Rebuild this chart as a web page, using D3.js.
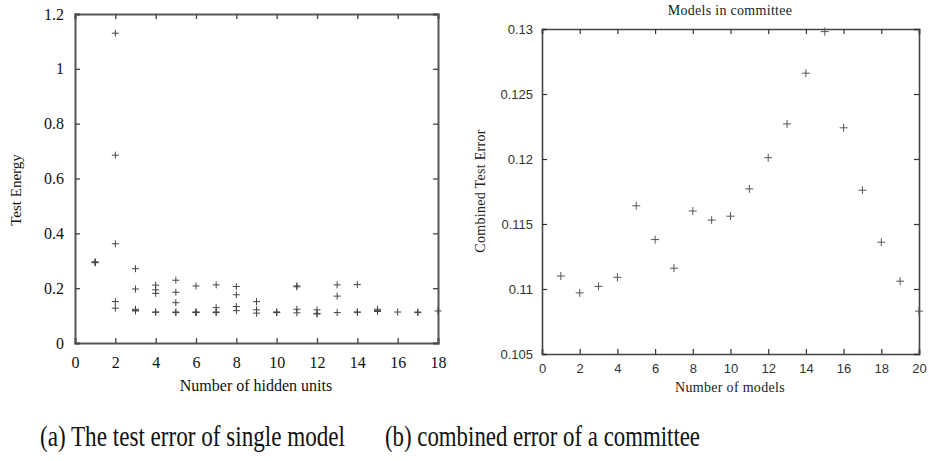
<!DOCTYPE html>
<html>
<head>
<meta charset="utf-8">
<script src="https://d3js.org/d3.v7.min.js"></script>
<style>
    body { margin: 0; background: #fff; }
    .serif { font-family: "Liberation Serif", "Times New Roman", serif; }
    .sans { font-family: "Liberation Sans", Arial, sans-serif; }
</style>
</head>
<body>
<svg id="svgMain" width="929" height="461" style="background:#fff"></svg>
<script>

    // (a) single model: test energy for each number of hidden units
    const hiddenUnits = [1, 2, 3, 4, 5, 6, 7, 8, 9, 10, 11, 12, 13, 14, 15, 16, 17, 18];
    const testEnergy = [
        [0.293, 0.296, 0.294],
        [1.13, 0.685, 0.362, 0.151, 0.127],
        [0.271, 0.197, 0.123, 0.117, 0.119],
        [0.211, 0.194, 0.181, 0.113, 0.112],
        [0.229, 0.185, 0.147, 0.113, 0.111],
        [0.208, 0.113, 0.111, 0.112],
        [0.212, 0.129, 0.113, 0.111],
        [0.206, 0.176, 0.133, 0.118],
        [0.151, 0.121, 0.109],
        [0.113, 0.111, 0.112],
        [0.208, 0.205, 0.123, 0.110],
        [0.121, 0.106, 0.108],
        [0.212, 0.171, 0.111],
        [0.213, 0.112, 0.113],
        [0.123, 0.115, 0.118],
        [0.113],
        [0.113, 0.111],
        [0.117]
    ];
    const energyTicks = [0, 0.2, 0.4, 0.6, 0.8, 1, 1.2];
    const unitTicks = [0, 2, 4, 6, 8, 10, 12, 14, 16, 18];

    // (b) committee: combined test error vs number of models
    const numModels = [1, 2, 3, 4, 5, 6, 7, 8, 9, 10, 11, 12, 13, 14, 15, 16, 17, 18, 19, 20];
    const combinedError = [0.1110, 0.1097, 0.1102, 0.1109, 0.1164, 0.1138, 0.1116, 0.1160, 0.1153, 0.1156,
        0.1177, 0.1201, 0.1227, 0.1266, 0.1298, 0.1224, 0.1176, 0.1136, 0.1106, 0.1083];
    const errorTicks = [0.105, 0.11, 0.115, 0.12, 0.125, 0.13];
    const modelTicks = [0, 2, 4, 6, 8, 10, 12, 14, 16, 18, 20];

    const captions = ["(a) The test error of single model", "(b) combined error of a committee"];

    const svg = d3.select("#svgMain");

    // cross marker path
    const cross = (x, y, r) => `M${x - r},${y}H${x + r}M${x},${y - r}V${y + r}`;

    // ---------- left chart ----------
    const xA = d3.scaleLinear().domain([0, 18]).range([75, 438]);
    const yA = d3.scaleLinear().domain([0, 1.2]).range([343, 14]);
    const gA = svg.append("g");

    const ptsA = [];
    hiddenUnits.forEach((u, i) => testEnergy[i].forEach(v => ptsA.push([u, v])));

    gA.append("g")
        .attr("transform", "translate(0,343)")
        .call(d3.axisBottom(xA).tickValues(unitTicks).tickSize(-5).tickPadding(14).tickFormat(d3.format("d")));
    gA.append("g")
        .attr("transform", "translate(0,14)")
        .call(d3.axisTop(xA).tickValues(unitTicks).tickSize(-5).tickFormat(""));
    gA.append("g")
        .attr("transform", "translate(75,0)")
        .call(d3.axisLeft(yA).tickValues(energyTicks).tickSize(-5).tickPadding(11).tickFormat(d => String(+d.toFixed(1))));
    gA.append("g")
        .attr("transform", "translate(438,0)")
        .call(d3.axisRight(yA).tickValues(energyTicks).tickSize(-5).tickFormat(""));

    gA.selectAll(".domain").attr("stroke", "#555").attr("stroke-width", 2);
    gA.selectAll(".tick line").attr("stroke", "#444").attr("stroke-width", 1.3);
    gA.selectAll(".tick text").attr("class", "serif").attr("font-size", 16).attr("fill", "#111");

    gA.append("path")
        .attr("d", ptsA.map(p => cross(xA(p[0]), yA(p[1]), 3.5)).join(""))
        .attr("stroke", "#444")
        .attr("stroke-width", 1)
        .attr("fill", "none");

    gA.append("text").attr("class", "serif")
        .attr("transform", "translate(16,190) rotate(-90)")
        .attr("text-anchor", "middle").attr("dy", "0.35em")
        .attr("font-size", 15).attr("fill", "#111")
        .text("Test Energy");

    gA.append("text").attr("class", "serif")
        .attr("x", 256).attr("y", 385).attr("dy", "0.35em")
        .attr("text-anchor", "middle")
        .attr("font-size", 16).attr("fill", "#111")
        .text("Number of hidden units");

    // ---------- right chart ----------
    const xB = d3.scaleLinear().domain([0, 20]).range([542, 919]);
    const yB = d3.scaleLinear().domain([0.105, 0.13]).range([354, 29]);
    const gB = svg.append("g");

    gB.append("g")
        .attr("transform", "translate(0,354)")
        .call(d3.axisBottom(xB).tickValues(modelTicks).tickSize(-5).tickPadding(9.5).tickFormat(d3.format("d")));
    gB.append("g")
        .attr("transform", "translate(0,29)")
        .call(d3.axisTop(xB).tickValues(modelTicks).tickSize(-5).tickFormat(""));
    gB.append("g")
        .attr("transform", "translate(542,0)")
        .call(d3.axisLeft(yB).tickValues(errorTicks).tickSize(-5).tickPadding(9).tickFormat(d => String(+d.toFixed(3))));
    gB.append("g")
        .attr("transform", "translate(919,0)")
        .call(d3.axisRight(yB).tickValues(errorTicks).tickSize(-5).tickFormat(""));

    gB.selectAll(".domain").attr("stroke", "#444").attr("stroke-width", 1.6);
    gB.selectAll(".tick line").attr("stroke", "#333").attr("stroke-width", 1.2);
    gB.selectAll(".tick text").attr("class", "sans").attr("font-size", 13).attr("fill", "#333");

    gB.append("path")
        .attr("d", numModels.map((n, i) => cross(xB(n), yB(combinedError[i]), 4)).join(""))
        .attr("stroke", "#555")
        .attr("stroke-width", 1)
        .attr("fill", "none");

    gB.append("text").attr("class", "serif")
        .attr("x", 730).attr("y", 10).attr("dy", "0.35em")
        .attr("text-anchor", "middle")
        .attr("font-size", 14).attr("letter-spacing", 0.3).attr("fill", "#222")
        .text("Models in committee");

    gB.append("text").attr("class", "serif")
        .attr("transform", "translate(480,191) rotate(-90)")
        .attr("text-anchor", "middle").attr("dy", "0.35em")
        .attr("font-size", 14).attr("letter-spacing", 0.3).attr("fill", "#222")
        .text("Combined Test Error");

    gB.append("text").attr("class", "serif")
        .attr("x", 730).attr("y", 387).attr("dy", "0.35em")
        .attr("text-anchor", "middle")
        .attr("font-size", 14).attr("letter-spacing", 0.3).attr("fill", "#222")
        .text("Number of models");

    // ---------- captions (tall, narrow serif) ----------
    svg.append("text").attr("class", "serif")
        .attr("transform", "translate(40,446) scale(1,1.3)")
        .attr("font-size", 23).attr("fill", "#111")
        .attr("textLength", 305).attr("lengthAdjust", "spacingAndGlyphs")
        .text(captions[0]);

    svg.append("text").attr("class", "serif")
        .attr("transform", "translate(385,446) scale(1,1.3)")
        .attr("font-size", 23).attr("fill", "#111")
        .attr("textLength", 315).attr("lengthAdjust", "spacingAndGlyphs")
        .text(captions[1]);

</script>
</body>
</html>
